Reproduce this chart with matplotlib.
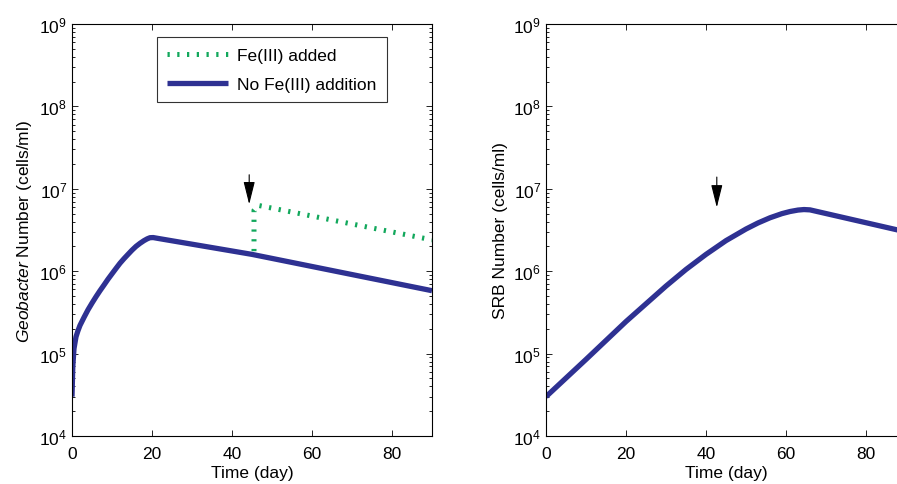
import numpy as np
import matplotlib.pyplot as plt
from matplotlib.ticker import LogLocator, NullFormatter

plt.rcParams['font.family'] = ['Liberation Sans', 'DejaVu Sans']
plt.rcParams['mathtext.fontset'] = 'custom'
plt.rcParams['mathtext.rm'] = 'Liberation Sans'
plt.rcParams['mathtext.it'] = 'Liberation Sans:italic'

# Geobacter, no Fe(III) addition
geo_t = [0, 0.2, 0.5, 1, 1.5, 2, 3, 4, 5, 6, 7, 8, 9, 10, 11, 12, 13, 14,
         15, 16, 17, 18, 18.8, 19.5, 20.3, 21.5, 45, 90]
geo_n = [3.0e4, 7.0e4, 1.15e5, 1.6e5, 1.9e5, 2.2e5, 2.75e5, 3.4e5, 4.1e5,
         4.9e5, 5.8e5, 6.8e5, 8.0e5, 9.3e5, 1.08e6, 1.25e6, 1.42e6, 1.6e6,
         1.8e6, 2.0e6, 2.18e6, 2.35e6, 2.47e6, 2.55e6, 2.56e6, 2.5e6,
         1.6e6, 5.8e5]

# Geobacter, Fe(III) added on day 45
fe_t = [45.5, 45.5, 46.5, 90]
fe_n = [1.75e6, 5.5e6, 6.3e6, 2.4e6]

# SRB
srb_t = [0, 10, 20, 30, 35, 40, 45, 50, 53, 56, 59, 61, 63, 64.5, 66, 90]
srb_n = [3.0e4, 8.5e4, 2.45e5, 6.6e5, 1.05e6, 1.6e6, 2.35e6, 3.25e6, 3.85e6,
         4.45e6, 5.0e6, 5.3e6, 5.52e6, 5.6e6, 5.55e6, 3.0e6]

BLUE = '#2e3192'
GREEN = '#12a85c'
FS = 12.5

fig = plt.figure(figsize=(8.97, 4.85), dpi=100)
W, H = 897.0, 485.0
ax1 = fig.add_axes([72 / W, 48 / H, 360 / W, 412 / H])
ax2 = fig.add_axes([546 / W, 48 / H, 360 / W, 412 / H])

for ax in (ax1, ax2):
    ax.set_yscale('log')
    ax.set_xlim(0, 90)
    ax.set_ylim(1e4, 1e9)
    ax.set_xticks([0, 20, 40, 60, 80])
    ax.yaxis.set_major_locator(LogLocator(base=10, numticks=10))
    ax.yaxis.set_minor_locator(LogLocator(base=10, subs=np.arange(2, 10), numticks=20))
    ax.yaxis.set_minor_formatter(NullFormatter())
    ax.tick_params(which='both', direction='in', top=True, right=True,
                   labelsize=FS, width=0.6)
    ax.tick_params(which='major', length=4)
    ax.tick_params(which='minor', length=2)
    ax.tick_params(axis='x', pad=7)
    for s in ax.spines.values():
        s.set_linewidth(0.8)
    ax.set_xlabel('Time (day)', fontsize=FS, labelpad=3)

ax1.plot(fe_t, fe_n, color=GREEN, lw=3.6, dashes=(0.45, 1.5),
         dash_capstyle='butt', label='Fe(III) added')
ax1.plot(geo_t, geo_n, color=BLUE, lw=3.8, solid_joinstyle='round',
         solid_capstyle='butt', label='No Fe(III) addition')
ax1.set_ylabel(r'$\mathit{Geobacter}$ Number (cells/ml)', fontsize=FS)
leg = ax1.legend(loc='upper left', bbox_to_anchor=(0.236, 0.968), fontsize=FS,
                 frameon=True, fancybox=False, edgecolor='black',
                 borderaxespad=0, handlelength=3.5, handletextpad=0.5,
                 borderpad=0.6, labelspacing=0.8)
leg.get_frame().set_linewidth(0.8)

arrow = dict(arrowstyle='-|>,head_width=0.35,head_length=1.4',
             color='black', lw=0.8)
ax1.annotate('', xy=(44.3, 6.0e6), xytext=(44.3, 1.6e7), arrowprops=arrow)

ax2.plot(srb_t, srb_n, color=BLUE, lw=3.8, solid_joinstyle='round',
         solid_capstyle='butt')
ax2.set_ylabel('SRB Number (cells/ml)', fontsize=FS)
ax2.annotate('', xy=(42.7, 5.5e6), xytext=(42.7, 1.5e7), arrowprops=arrow)

fig.savefig('out.png', dpi=100)
